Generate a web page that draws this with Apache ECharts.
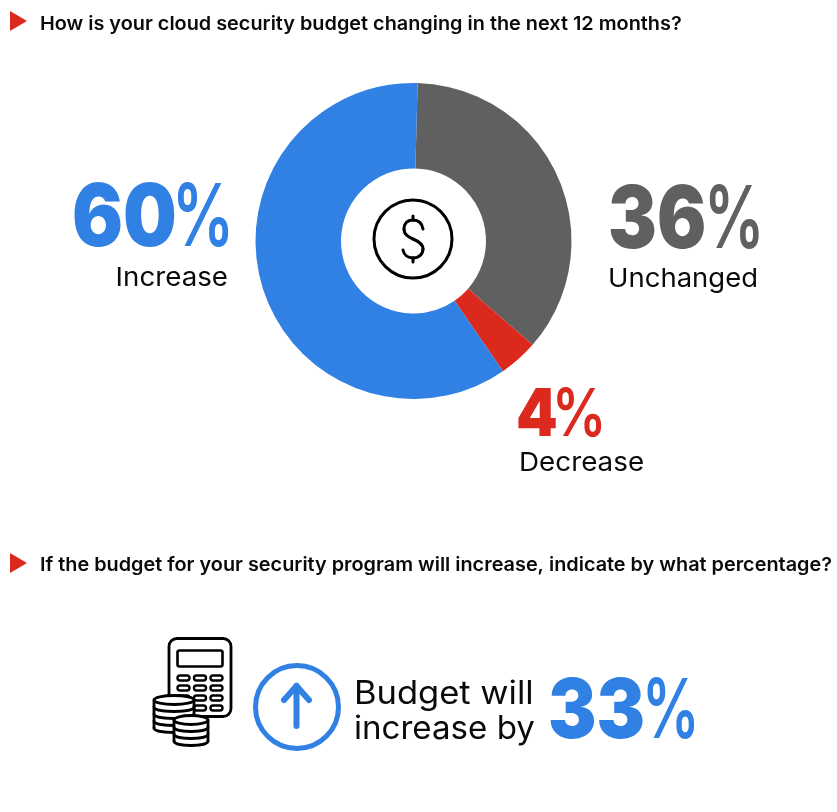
<!DOCTYPE html>
<html>
<head>
<meta charset="utf-8">
<title>Cloud security budget</title>
<style>
html, body { margin: 0; padding: 0; background: #fff; }
#chart { width: 837px; height: 812px; }
</style>
<script src="https://cdn.jsdelivr.net/npm/echarts@6/dist/echarts.min.js"></script>
</head>
<body>
<div id="chart"></div>
<script>
var categories = ['Unchanged', 'Decrease', 'Increase'];
var values = [36, 4, 60];
var colors = ['#606060', '#DC291E', '#3180E3'];
var question1 = 'How is your cloud security budget changing in the next 12 months?';
var question2 = 'If the budget for your security program will increase, indicate by what percentage?';
var budgetLines = ['Budget will', 'increase by'];
var budgetValue = 33;

var FONT = 'Inter';
var BLUE = colors[2];
var RED = colors[1];
var INK = '#0a0a0a';

// letterSpacing is ignored here, so the wider text is stretched with scaleX
function text(x, y, str, size, weight, color, align, stretch) {
    return {
        type: 'text',
        x: x,
        y: y,
        scaleX: stretch || 1,
        style: {
            text: str,
            fontFamily: FONT,
            fontSize: size,
            fontWeight: weight,
            fill: color,
            align: align || 'left',
            verticalAlign: 'middle'
        }
    };
}

// the digits are heavy, the % sign is lighter and squeezed
function bigPercent(x, pctX, y, value, color, size, digitStretch, pctStretch) {
    return [
        text(x, y, String(value), size, 900, color, 'left', digitStretch),
        text(pctX, y, '%', size, 600, color, 'left', pctStretch)
    ];
}

function triangle(x, y) {
    return {
        type: 'polygon',
        shape: { points: [[x, y - 10], [x + 17, y], [x, y + 10]] },
        style: { fill: RED }
    };
}

function line(x1, y1, x2, y2, width, color) {
    return {
        type: 'line',
        shape: { x1: x1, y1: y1, x2: x2, y2: y2 },
        style: { stroke: color, lineWidth: width, lineCap: 'round' }
    };
}

function curve(x1, y1, cx1, cy1, cx2, cy2, x2, y2, width) {
    return {
        type: 'bezierCurve',
        shape: { x1: x1, y1: y1, cpx1: cx1, cpy1: cy1, cpx2: cx2, cpy2: cy2, x2: x2, y2: y2 },
        style: { fill: 'none', stroke: '#000', lineWidth: width, lineCap: 'round' }
    };
}

// dollar icon in the middle of the donut
function dollarIcon() {
    var w = 3;
    return [
        {
            type: 'circle',
            shape: { cx: 413, cy: 239, r: 39 },
            style: { fill: 'none', stroke: '#000', lineWidth: w }
        },
        curve(423, 229, 422, 223, 418, 220, 413, 220, w),
        curve(413, 220, 407, 220, 404, 224, 404, 229, w),
        curve(404, 229, 404, 235, 409, 237, 413, 239, w),
        curve(413, 239, 418, 241, 423, 244, 423, 249, w),
        curve(423, 249, 423, 254, 419, 258, 413, 258, w),
        curve(413, 258, 408, 258, 404, 255, 403, 250, w),
        line(413, 216, 413, 220, w, '#000'),
        line(413, 258, 413, 262, w, '#000')
    ];
}

function coinStack(cx, top, rows, rx, step) {
    var w = 2.8;
    var ry = 4.5;
    var bottom = top + rows * step;
    var bulge = ry * 1.33;
    var i;
    var y;
    var out = [
        {
            type: 'rect',
            shape: { x: cx - rx, y: top, width: rx * 2, height: rows * step + ry },
            style: { fill: '#fff' }
        },
        {
            type: 'ellipse',
            shape: { cx: cx, cy: top, rx: rx, ry: ry },
            style: { fill: '#fff', stroke: '#000', lineWidth: w }
        },
        line(cx - rx, top, cx - rx, bottom, w, '#000'),
        line(cx + rx, top, cx + rx, bottom, w, '#000')
    ];
    for (i = 1; i <= rows; i++) {
        y = top + i * step;
        out.push(curve(cx - rx, y, cx - rx, y + bulge, cx + rx, y + bulge, cx + rx, y, w));
    }
    return out;
}

function calculatorIcon() {
    var out = [
        {
            type: 'rect',
            shape: { x: 169, y: 638.5, width: 62, height: 78, r: 8 },
            style: { fill: '#fff', stroke: '#000', lineWidth: 2.8 }
        },
        {
            type: 'rect',
            shape: { x: 177.5, y: 650.5, width: 45, height: 16, r: 2 },
            style: { fill: '#fff', stroke: '#000', lineWidth: 2.6 }
        }
    ];
    var xs = [177.5, 194, 210.5];
    var ys = [675.5, 685.5, 695.5, 705.5];
    ys.forEach(function (y) {
        xs.forEach(function (x) {
            out.push({
                type: 'rect',
                shape: { x: x, y: y, width: 12, height: 5, r: 2.5 },
                style: { fill: '#fff', stroke: '#000', lineWidth: 2.4 }
            });
        });
    });
    return out.concat(coinStack(174, 700, 4, 20, 7), coinStack(191, 720, 3, 17, 7));
}

function arrowIcon() {
    return [
        {
            type: 'circle',
            shape: { cx: 297, cy: 707, r: 41.5 },
            style: { fill: 'none', stroke: BLUE, lineWidth: 5 }
        },
        line(296.5, 686, 296.5, 726, 6, BLUE),
        line(296.5, 686, 284, 700, 6, BLUE),
        line(296.5, 686, 309, 700, 6, BLUE)
    ];
}

var elements = [
    triangle(10, 21),
    text(40, 24, question1, 19, 600, INK, 'left', 1.045),
    triangle(10, 563),
    text(40, 565, question2, 19, 600, INK, 'left', 1.045),
    text(228, 278, categories[2], 26, 400, INK, 'right', 1.066),
    text(608, 279, categories[0], 26, 400, INK, 'left', 1.057),
    text(519, 463, categories[1], 26, 400, INK, 'left', 1.069),
    text(354, 694, budgetLines[0], 32, 400, INK, 'left', 1.078),
    text(354, 729, budgetLines[1], 32, 400, INK, 'left', 1.034)
].concat(
    bigPercent(72, 172, 220, values[2], colors[2], 86, 0.88, 0.72),
    bigPercent(608, 704, 222, values[0], colors[0], 86, 0.85, 0.7),
    bigPercent(516, 552, 416, values[1], colors[1], 66, 0.9, 0.82),
    bigPercent(548, 642, 713, budgetValue, BLUE, 82, 0.885, 0.7),
    dollarIcon(),
    calculatorIcon(),
    arrowIcon()
);

var chart = echarts.init(document.getElementById('chart'));
chart.setOption({
    animation: false,
    graphic: { elements: elements },
    series: [
        {
            type: 'pie',
            center: [413.5, 241],
            radius: [72.5, 158],
            startAngle: 88.5,
            clockwise: true,
            silent: true,
            z: 1,
            label: { show: false },
            labelLine: { show: false },
            data: categories.map(function (name, i) {
                return { name: name, value: values[i], itemStyle: { color: colors[i] } };
            })
        }
    ]
});
</script>
</body>
</html>
